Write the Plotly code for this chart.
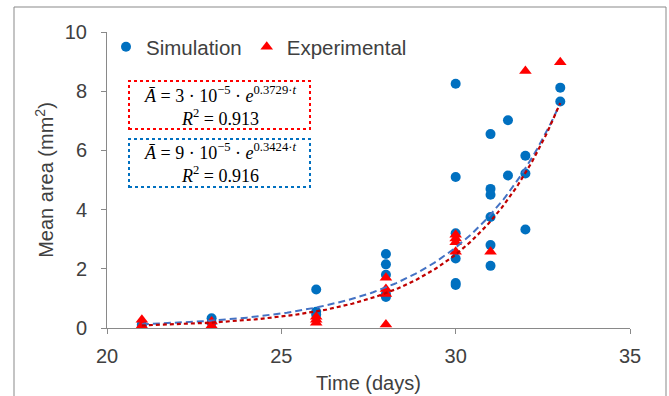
import numpy as np
import plotly.graph_objects as go

# ---------------- data ----------------
sim_t = [21, 21, 23, 23, 26, 26, 26, 28, 28, 28, 28, 28,
         30, 30, 30, 30, 30, 30, 31, 31, 31, 31, 31, 31,
         31.5, 31.5, 32, 32, 32, 33, 33]
sim_v = [0.12, 0.08, 0.33, 0.18, 1.3, 0.55, 0.45, 2.5, 2.15, 1.8, 1.15, 1.05,
         8.25, 5.1, 3.2, 2.35, 1.52, 1.45, 6.55, 4.7, 4.5, 3.75, 2.8, 2.1,
         7.02, 5.15, 5.82, 5.22, 3.33, 8.12, 7.65]

exp_t = [21, 21, 23, 23, 26, 26, 26, 28, 28, 28, 28, 30, 30, 30, 30, 31, 32, 33]
exp_v = [0.28, 0.08, 0.22, 0.08, 0.38, 0.28, 0.18, 1.7, 1.32, 1.15, 0.12,
         3.15, 3.02, 2.9, 2.58, 2.58, 8.68, 8.98]

# exponential trendline parameters (A = a * exp(b * t))
exp_fit_a, exp_fit_b = 3.44e-5, 0.3729
sim_fit_a, sim_fit_b = 9.4e-5, 0.3424
fit_t_range = [21, 33]

x_ticks = [20, 25, 30, 35]
y_ticks = [0, 2, 4, 6, 8, 10]

# ---------------- figure ----------------
TXT = "#404040"
AX = "#898989"
BLUE = "#0070C0"
RED = "#FF0000"

fit_t = np.linspace(fit_t_range[0], fit_t_range[1], 200)

fig = go.Figure()
fig.add_trace(go.Scatter(x=sim_t, y=sim_v, mode="markers", name="Simulation",
                         marker=dict(symbol="circle", size=10, color=BLUE)))
fig.add_trace(go.Scatter(x=exp_t, y=exp_v, mode="markers", name="Experimental",
                         marker=dict(symbol="triangle-up", size=11, color=RED)))
fig.add_trace(go.Scatter(x=fit_t, y=sim_fit_a * np.exp(sim_fit_b * fit_t), mode="lines",
                         showlegend=False, hoverinfo="skip",
                         line=dict(color="#4472C4", width=2, dash="7px,4px")))
fig.add_trace(go.Scatter(x=fit_t, y=exp_fit_a * np.exp(exp_fit_b * fit_t), mode="lines",
                         showlegend=False, hoverinfo="skip",
                         line=dict(color="#C00000", width=2.2, dash="4px,3px")))

W, H = 669, 396
L, R, T, B = 107, 39, 32, 68
pw, ph = W - L - R, H - T - B


def px(xp):
    return (xp - L) / pw


def py(yp):
    return (H - B - yp) / ph


shapes = [
    # outer frame
    dict(type="rect", xref="paper", yref="paper", x0=px(14), x1=px(666), y0=py(397), y1=py(7),
         line=dict(color=AX, width=1)),
    # equation boxes
    dict(type="rect", xref="paper", yref="paper", x0=px(129), x1=px(310), y0=py(129), y1=py(81),
         line=dict(color=RED, width=2, dash="dot")),
    dict(type="rect", xref="paper", yref="paper", x0=px(129), x1=px(310), y0=py(187), y1=py(139),
         line=dict(color=BLUE, width=2, dash="dot")),
]

SERIF = "Liberation Serif, Times New Roman, serif"
eq_boxes = [
    ("<i>A\u0304</i> = 3 \u00b7 10<sup>\u22125</sup> \u00b7 <i>e</i><sup>0.3729\u00b7<i>t</i></sup>"
     "<br><i>R</i><sup>2</sup> = 0.913", 106),
    ("<i>A\u0304</i> = 9 \u00b7 10<sup>\u22125</sup> \u00b7 <i>e</i><sup>0.3424\u00b7<i>t</i></sup>"
     "<br><i>R</i><sup>2</sup> = 0.916", 163),
]
annos = []
for txt, yy in eq_boxes:
    annos.append(dict(text=txt, xref="paper", yref="paper", x=px(219.5), y=py(yy),
                      xanchor="center", yanchor="middle", showarrow=False, align="center",
                      font=dict(family=SERIF, size=18, color="#000000")))

fig.update_layout(
    width=W, height=H,
    margin=dict(l=L, r=R, t=T, b=B, pad=0, autoexpand=False),
    paper_bgcolor="white", plot_bgcolor="white",
    font=dict(family="Liberation Sans, Arial, sans-serif", color=TXT, size=20),
    showlegend=True,
    legend=dict(orientation="h", x=px(106), y=py(47), xanchor="left", yanchor="middle",
                bgcolor="rgba(0,0,0,0)", font=dict(size=20.5, color=TXT),
                itemsizing="trace"),
    shapes=shapes,
    annotations=annos,
)
fig.update_xaxes(range=[20, 35], tickvals=x_ticks, showgrid=False, zeroline=False,
                 automargin=False,
                 showline=True, linecolor=AX, linewidth=1, ticks="outside", ticklen=5,
                 tickcolor=AX, tickfont=dict(size=20, color=TXT), ticklabelstandoff=5,
                 title=dict(text="Time (days)", font=dict(size=20, color=TXT), standoff=9))
fig.update_yaxes(range=[0, 10], tickvals=y_ticks, showgrid=False, zeroline=False,
                 automargin=False,
                 showline=True, linecolor=AX, linewidth=1, ticks="outside", ticklen=5,
                 tickcolor=AX, tickfont=dict(size=20, color=TXT), ticklabelstandoff=10,
                 title=dict(text="Mean area (mm<sup>2</sup>)", font=dict(size=20, color=TXT),
                            standoff=5))

fig.write_html("out.html")
